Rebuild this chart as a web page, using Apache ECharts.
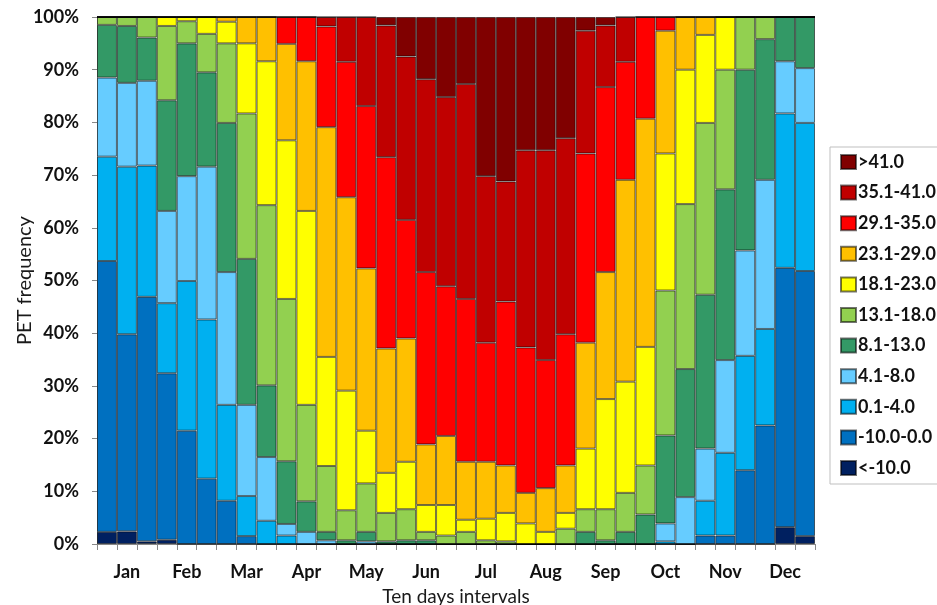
<!DOCTYPE html>
<html>
<head>
<meta charset="utf-8">
<script src="https://cdn.jsdelivr.net/npm/echarts@6/dist/echarts.min.js"></script>
<style>
  html, body { margin: 0; padding: 0; background: #fff; }
  #chart { width: 937px; height: 605px; }
</style>
</head>
<body>
<div id="chart"></div>
<script>
// Ten-day intervals: three per month
const months = ['Jan', 'Feb', 'Mar', 'Apr', 'May', 'Jun', 'Jul', 'Aug', 'Sep', 'Oct', 'Nov', 'Dec'];
const intervals = [];
months.forEach(m => { intervals.push(m + ' I', m + ' II', m + ' III'); });

// PET class labels (from coldest to hottest)
const classNames = ['<-10.0', '-10.0-0.0', '0.1-4.0', '4.1-8.0', '8.1-13.0', '13.1-18.0',
                    '18.1-23.0', '23.1-29.0', '29.1-35.0', '35.1-41.0', '>41.0'];
const classColors = ['#002060', '#0070c0', '#00b0f0', '#66ccff', '#339966', '#92d050',
                     '#ffff00', '#ffc000', '#ff0000', '#c00000', '#800000'];

// Frequency (%) of each PET class for every ten-day interval
const petBelowM10 = [2.3,2.4,0.5,0.8,0,0,0,0,0,0,0,0,0,0,0,0,0,0,0,0,0,0,0,0,0,0,0,0,0,0,0,0,0,0,3.2,1.5];
const petM10to0  = [51.4,37.4,46.4,31.6,21.5,12.4,8.2,1.5,0,0,0,0,0,0,0,0,0,0,0,0,0,0,0,0,0,0,0,0,0,0,1.6,1.6,14.0,22.5,49.2,50.3];
const pet0to4    = [19.8,31.8,24.9,13.3,28.4,30.2,18.2,7.6,4.4,1.6,0,0,0,0,0,0,0,0,0,0,0,0,0,0,0,0,0,0,0.5,0,6.6,15.7,21.7,18.3,29.3,28.1];
const pet4to8    = [15.0,15.9,16.1,17.5,19.9,29.0,25.2,17.3,12.1,2.2,2.3,0.7,0,0.5,0,0,0,0,0,0,0,0,0,0,0,0,0,0,3.4,8.9,9.9,17.6,20.0,28.3,9.9,10.4];
const pet8to13   = [10.0,10.8,8.2,21.0,25.2,17.9,28.3,27.7,13.6,11.9,5.8,1.6,0.7,1.8,0.5,0.7,0.7,0,0,0,0,0,0,0,2.3,0.7,2.3,5.6,16.7,24.3,29.2,32.4,34.3,26.7,8.4,9.7];
const pet13to18  = [1.5,1.7,3.9,14.1,4.2,7.3,15.1,27.6,34.2,30.8,18.3,12.5,5.7,9.2,5.4,5.9,1.6,1.6,2.3,0.7,0.5,0,0,2.9,4.3,5.9,7.4,9.3,27.5,31.3,32.6,22.7,10.0,4.2,0,0];
const pet18to23  = [0,0,0,1.7,0.8,3.2,4.1,13.3,27.3,30.1,36.8,20.7,22.7,10.0,7.6,9.0,5.1,5.8,2.3,4.1,5.4,3.9,2.3,3.0,11.5,20.9,21.1,22.5,26.0,25.5,16.7,10.0,0,0,0,0];
const pet23to29  = [0,0,0,0,0,0,0.9,5.0,8.4,18.3,28.4,43.6,36.7,30.8,23.6,23.4,11.5,13.1,11.0,10.8,9.0,5.8,8.3,9.0,20.1,24.1,38.3,43.3,23.3,10.0,3.4,0,0,0,0,0];
const pet29to35  = [0,0,0,0,0,0,0,0,0,5.1,8.4,19.1,25.7,30.8,36.3,22.5,32.7,28.4,30.9,22.6,31.1,27.6,24.3,24.9,35.9,35.1,22.4,19.3,2.6,0,0,0,0,0,0,0];
const pet35to41  = [0,0,0,0,0,0,0,0,0,0,0,1.8,8.5,16.9,25.0,31.0,36.6,35.9,40.8,31.6,22.8,37.4,39.8,37.2,23.3,11.7,8.5,0,0,0,0,0,0,0,0,0];
const petAbove41 = [0,0,0,0,0,0,0,0,0,0,0,0,0,0,1.6,7.5,11.8,15.2,12.7,30.2,31.2,25.3,25.3,23.0,2.6,1.6,0,0,0,0,0,0,0,0,0,0];

const classData = [petBelowM10, petM10to0, pet0to4, pet4to8, pet8to13, pet13to18,
                   pet18to23, pet23to29, pet29to35, pet35to41, petAbove41];

const yTicks = { min: 0, max: 100, step: 10 };

const FONT = 'Lato, "Open Sans", sans-serif';
const chart = echarts.init(document.getElementById('chart'));

const series = classNames.map((name, i) => ({
  name: name,
  type: 'bar',
  stack: 'pet',
  barCategoryGap: '0%',
  data: classData[i],
  itemStyle: { color: classColors[i], borderColor: 'rgba(0,0,0,0.55)', borderWidth: 1 },
  emphasis: { disabled: true }
}));

chart.setOption({
  animation: false,
  textStyle: { fontFamily: FONT },
  grid: { left: 97, right: 122, top: 17, bottom: 61, outerBoundsMode: 'none' },
  legend: {
    orient: 'vertical',
    left: 830,
    top: 147,
    data: classNames.slice().reverse(),
    icon: 'rect',
    itemWidth: 15,
    itemHeight: 14,
    itemGap: 12.6,
    padding: [6, 40, 7, 10],
    borderColor: '#bfbfbf',
    borderWidth: 1,
    textStyle: { fontFamily: FONT, fontSize: 18, lineHeight: 14, fontWeight: 'bold', color: '#111', padding: [0, 0, 0, -3] }
  },
  xAxis: {
    type: 'category',
    data: intervals,
    name: 'Ten days intervals',
    nameLocation: 'middle',
    nameGap: 43,
    nameTextStyle: { fontFamily: FONT, fontSize: 19, fontWeight: 'normal', color: '#1a1a1a' },
    axisLine: { lineStyle: { color: '#888', width: 1 } },
    axisTick: { show: true, alignWithLabel: false, interval: 0, length: 6, lineStyle: { color: '#888' } },
    axisLabel: {
      interval: 0,
      margin: 19,
      fontFamily: FONT, fontSize: 18, fontWeight: 'bold', color: '#111',
      formatter: (v, idx) => (idx % 3 === 1 ? months[Math.floor(idx / 3)] : '')
    }
  },
  yAxis: {
    type: 'value',
    min: yTicks.min,
    max: yTicks.max,
    interval: yTicks.step,
    name: 'PET frequency',
    nameLocation: 'middle',
    nameGap: 62,
    nameMoveOverlap: false,
    nameTextStyle: { fontFamily: FONT, fontSize: 20, fontWeight: 'normal', color: '#1a1a1a' },
    axisLine: { show: true, lineStyle: { color: '#888', width: 1 } },
    axisTick: { show: true, length: 5, lineStyle: { color: '#888' } },
    splitLine: { show: false },
    axisLabel: {
      margin: 18,
      fontFamily: FONT, fontSize: 18, fontWeight: 'bold', color: '#111',
      formatter: '{value}%'
    }
  },
  series: series
});
</script>
</body>
</html>
